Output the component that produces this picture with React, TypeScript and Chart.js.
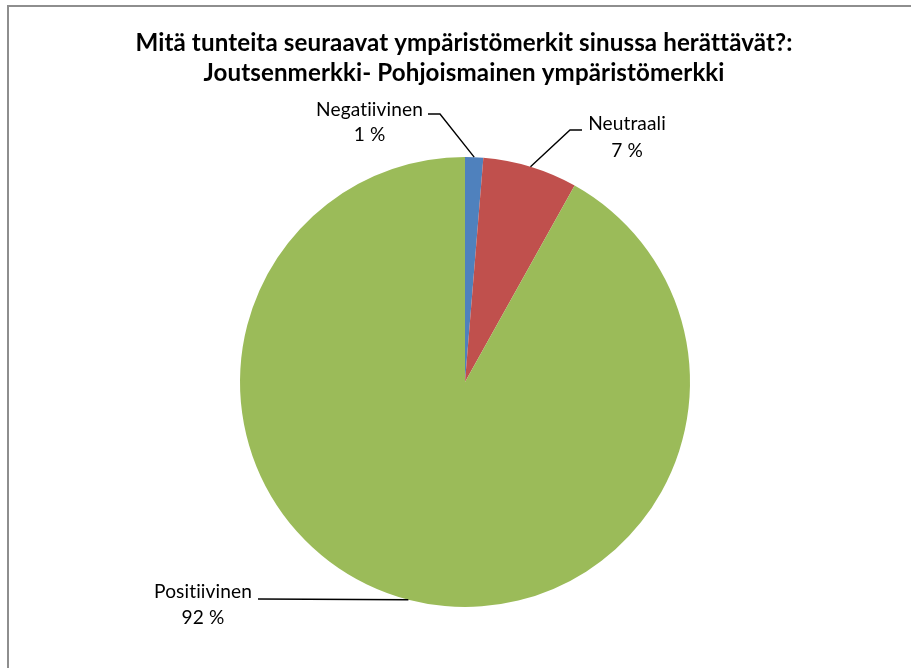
import React, { useEffect, useRef } from "react";
import { Chart, registerables } from "chart.js";

Chart.register(...registerables);

const titleLines = [
  "Mitä tunteita seuraavat ympäristömerkit sinussa herättävät?:",
  "Joutsenmerkki- Pohjoismainen ympäristömerkki",
];
const categories = ["Negatiivinen", "Neutraali", "Positiivinen"];
const shares = [1.3, 6.8, 91.9];
const colors = ["#4F81BD", "#C0504D", "#9BBB59"];

// label placement (text center x, first baseline, leader elbow)
const labelLayout = [
  { cx: 369.5, y1: 116, y2: 141, ex: [428, 440], ey: 114 },
  { cx: 627, y1: 130, y2: 156.5, ex: [582, 570], ey: 130 },
  { cx: 203, y1: 598, y2: 624, ex: [258, 258], ey: 599 },
];

const FONT = "Lato, 'Open Sans', sans-serif";

function setSpacing(ctx: any) {
  // a tiny letter spacing turns off Lato's "ti" ligature
  ctx.letterSpacing = "0.1px";
}

function fitSize(ctx: CanvasRenderingContext2D, text: string, weight: string, target: number) {
  ctx.font = `${weight} 100px ${FONT}`;
  setSpacing(ctx);
  const w = ctx.measureText(text).width;
  return (100 * target) / w;
}

const annotatePlugin = {
  id: "annotate",
  beforeDraw(chart: any) {
    const ctx = chart.ctx as CanvasRenderingContext2D;
    ctx.save();
    ctx.fillStyle = "#ffffff";
    ctx.fillRect(0, 0, chart.width, chart.height);
    ctx.fillStyle = "#8e8e8e";
    ctx.fillRect(7, 5, 2, chart.height);
    ctx.fillRect(7, 5, chart.width, 2);
    ctx.restore();
  },
  afterDraw(chart: any) {
    const ctx = chart.ctx as CanvasRenderingContext2D;
    ctx.save();
    // title
    const ts = fitSize(ctx, titleLines[0], "bold", 653);
    ctx.font = `bold ${ts}px ${FONT}`;
    setSpacing(ctx);
    ctx.fillStyle = "#000";
    ctx.textAlign = "center";
    ctx.textBaseline = "alphabetic";
    ctx.fillText(titleLines[0], 464, 51);
    ctx.fillText(titleLines[1], 464, 81);

    // labels
    const ls = fitSize(ctx, categories[0], "normal", 106);
    const meta = chart.getDatasetMeta(0);
    const total = shares.reduce((a, b) => a + b, 0);
    meta.data.forEach((arc: any, i: number) => {
      const lay = labelLayout[i];
      const mid = (arc.startAngle + arc.endAngle) / 2;
      const ax = arc.x + Math.cos(mid) * arc.outerRadius;
      const ay = arc.y + Math.sin(mid) * arc.outerRadius;
      ctx.strokeStyle = "#000";
      ctx.lineWidth = 1.4;
      ctx.beginPath();
      ctx.moveTo(lay.ex[0], lay.ey);
      ctx.lineTo(lay.ex[1], lay.ey);
      ctx.lineTo(ax, ay);
      ctx.stroke();
      ctx.font = `normal ${ls}px ${FONT}`;
      setSpacing(ctx);
      ctx.fillStyle = "#000";
      ctx.textAlign = "center";
      ctx.fillText(categories[i], lay.cx, lay.y1);
      ctx.fillText(`${Math.round((shares[i] / total) * 100)} %`, lay.cx, lay.y2);
    });
    ctx.restore();
  },
};

export default function App() {
  const ref = useRef<HTMLCanvasElement>(null);
  useEffect(() => {
    if (!ref.current) return;
    const chart = new Chart(ref.current, {
      type: "pie",
      data: {
        labels: categories,
        datasets: [
          {
            data: shares,
            backgroundColor: colors,
            borderWidth: 0,
          },
        ],
      },
      options: {
        animation: false,
        responsive: false,
        devicePixelRatio: 1,
        layout: { padding: { left: 240, right: 221, top: 157, bottom: 61 } },
        plugins: {
          legend: { display: false },
          title: { display: false },
          tooltip: { enabled: false },
        },
      },
      plugins: [annotatePlugin],
    });
    return () => chart.destroy();
  }, []);
  return (
    <div style={{ position: "absolute", left: 0, top: 0, width: 911, height: 668 }}>
      <canvas ref={ref} width={911} height={668} style={{ display: "block" }} />
    </div>
  );
}
